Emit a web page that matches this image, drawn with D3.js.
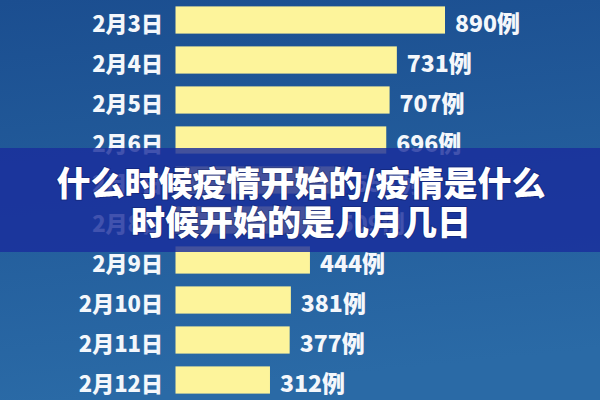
<!DOCTYPE html>
<html>
<head>
<meta charset="utf-8">
<script src="https://cdn.jsdelivr.net/npm/d3@7"></script>
<style>
  html, body { margin: 0; padding: 0; background: #1f5597; }
  svg { display: block; }
</style>
</head>
<body>
<svg id="chart" width="600" height="400"></svg>
<script>
const dates = ["2月3日","2月4日","2月5日","2月6日","2月7日","2月8日","2月9日","2月10日","2月11日","2月12日"];
const values = [890, 731, 707, 696, 558, 509, 444, 381, 377, 312];
const unit = "例";
const titleLines = ["什么时候疫情开始的/疫情是什么", "时候开始的是几月几日"];

const W = 600, H = 400;
const svg = d3.select("#chart");
const defs = svg.append("defs");
const grad = defs.append("linearGradient").attr("id", "bg")
  .attr("x1", "0%").attr("y1", "0%").attr("x2", "15%").attr("y2", "100%");
grad.append("stop").attr("offset", "0%").attr("stop-color", "#1b4e90");
grad.append("stop").attr("offset", "100%").attr("stop-color", "#2a6aa6");
svg.append("rect").attr("width", W).attr("height", H).attr("fill", "url(#bg)");

const y = d3.scaleBand().domain(dates).range([0, H]).paddingInner(0.32).paddingOuter(0.16);
const x = d3.scaleLinear().domain([0, 890]).range([175.5, 445]);

const data = dates.map((d, i) => ({ date: d, value: values[i] }));
const font = "'Noto Sans CJK SC', 'Noto Sans', sans-serif";

svg.append("g").selectAll("rect").data(data).join("rect")
  .attr("x", x(0))
  .attr("y", d => y(d.date))
  .attr("width", d => x(d.value) - x(0))
  .attr("height", y.bandwidth())
  .attr("fill", "#fdf49b");

svg.append("g").selectAll("text").data(data).join("text")
  .attr("x", 163)
  .attr("y", d => y(d.date) + y.bandwidth() / 2 + 2)
  .attr("text-anchor", "end")
  .attr("dominant-baseline", "central")
  .attr("fill", "#f4f7fb")
  .attr("font-family", font)
  .attr("font-weight", 900)
  .attr("font-size", 22)
  .text(d => d.date);

svg.append("g").selectAll("text").data(data).join("text")
  .attr("x", d => x(d.value) + 10)
  .attr("y", d => y(d.date) + y.bandwidth() / 2 + 2)
  .attr("dominant-baseline", "central")
  .attr("fill", "#f4f7fb")
  .attr("font-family", font)
  .attr("font-weight", 900)
  .attr("font-size", 23)
  .text(d => d.value + unit);

// overlay band with title
svg.append("rect").attr("x", 0).attr("y", 148).attr("width", W).attr("height", 104)
  .attr("fill", "#1a2d9c").attr("fill-opacity", 0.82);

svg.append("g").selectAll("text").data(titleLines).join("text")
  .attr("x", 301)
  .attr("y", (d, i) => 181 + i * 39)
  .attr("text-anchor", "middle")
  .attr("dominant-baseline", "central")
  .attr("fill", "#ffffff")
  .attr("font-family", font)
  .attr("font-weight", 900)
  .attr("font-size", 34)
  .style("paint-order", "stroke")
  .attr("stroke", "rgba(10,20,80,0.35)")
  .attr("stroke-width", 2)
  .text(d => d);
</script>
</body>
</html>
